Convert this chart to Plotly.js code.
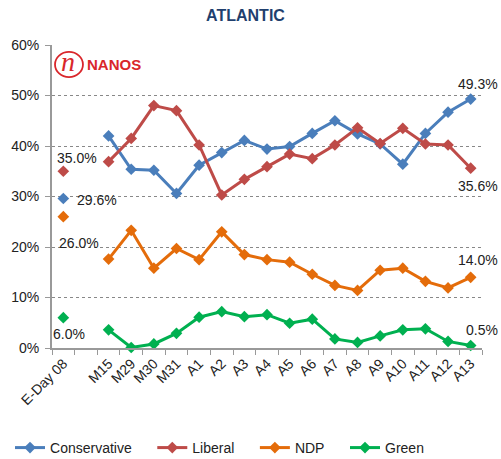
<!DOCTYPE html>
<html>
<head>
<meta charset="utf-8">
<script src="https://cdn.plot.ly/plotly-3.0.1.min.js"></script>
<style>html,body{margin:0;padding:0;background:#fff;}#chart{width:501px;height:459px;}</style>
</head>
<body>
<div id="chart"></div>
<script>
const categories = ['E-Day 08',' ','M15','M29','M30','M31','A1','A2','A3','A4','A5','A6','A7','A8','A9','A10','A11','A12','A13'];
const conservative = [29.6,null,42.0,35.4,35.2,30.6,36.2,38.7,41.1,39.4,39.9,42.5,45.0,42.4,40.4,36.4,42.5,46.7,49.3];
const liberal      = [35.0,null,36.9,41.5,48.0,47.0,40.2,30.3,33.4,35.9,38.4,37.5,40.2,43.6,40.5,43.5,40.4,40.2,35.6];
const ndp          = [26.0,null,17.6,23.3,15.8,19.7,17.5,23.0,18.5,17.5,17.0,14.6,12.4,11.4,15.4,15.8,13.2,11.9,14.0];
const green        = [6.0,null,3.6,0.1,0.8,2.9,6.1,7.2,6.2,6.6,4.9,5.7,1.8,1.1,2.4,3.6,3.8,1.3,0.5];
const seriesNames  = ['Conservative','Liberal','NDP','Green'];
const seriesColors = ['#4A7EBB','#BE4B48','#E46C0A','#00B050'];

const pad = '\u00a0\u00a0\u00a0\u00a0';
const allSeries = [conservative, liberal, ndp, green];
const traces = allSeries.map((vals, i) => ({
  type: 'scatter',
  mode: 'lines+markers',
  name: seriesNames[i] + pad,
  x: categories,
  y: vals,
  connectgaps: false,
  cliponaxis: false,
  line: {color: seriesColors[i], width: 3},
  marker: {symbol: 'diamond', size: 9, color: seriesColors[i]},
  hoverinfo: 'skip'
}));

const first = categories[0];
const last = categories[categories.length - 1];
const n = categories.length - 1;
const fmt = v => v.toFixed(1) + '%';
const labelFont = {family: 'Liberation Sans, Arial, sans-serif', size: 14, color: '#222'};
const ann = (x, y, xs, ys) => ({x: x, y: y, xref: 'x', yref: 'y', text: fmt(y), showarrow: false,
  xanchor: 'center', yanchor: 'middle', xshift: xs, yshift: ys, font: labelFont});

const annotations = [
  ann(first, liberal[0], 14, 13),
  ann(first, conservative[0], 34, -1),
  ann(first, ndp[0], 16, -26),
  ann(first, green[0], 6, -16),
  ann(last, conservative[n], 7, 15),
  ann(last, liberal[n], 7, -18),
  ann(last, ndp[n], 7, 17),
  ann(last, green[n], 11, 15),
  {xref: 'paper', yref: 'paper', x: 0.0395, y: 0.934, xanchor: 'center', yanchor: 'middle',
   text: 'n', showarrow: false, yshift: 3, xshift: -1,
   font: {family: 'Liberation Serif, Times New Roman, serif', size: 28, style: 'italic', color: '#D9262B'}},
  {xref: 'paper', yref: 'paper', x: 0.145, y: 0.934, xanchor: 'center', yanchor: 'middle',
   text: '<b>NANOS</b>', showarrow: false,
   font: {family: 'Liberation Sans, Arial, sans-serif', size: 15, color: '#D9262B'}}
];

const layout = {
  width: 501, height: 459,
  margin: {l: 52, r: 19, t: 45, b: 111},
  paper_bgcolor: '#fff', plot_bgcolor: '#fff',
  font: {family: 'Liberation Sans, Arial, sans-serif', size: 14, color: '#222'},
  title: {text: '<b>ATLANTIC</b>', font: {family: 'Liberation Sans, Arial, sans-serif', size: 16, color: '#1F3F6E'},
          x: 0.49, xref: 'container', xanchor: 'center', y: 0.967, yref: 'container', yanchor: 'middle', automargin: false},
  xaxis: {
    type: 'category', categoryorder: 'array', categoryarray: categories,
    range: [-0.5, categories.length - 0.5], automargin: false,
    tickangle: -45, tickson: 'boundaries', ticks: 'outside', ticklen: 5, tickcolor: '#999',
    showline: true, linecolor: '#999', linewidth: 2, showgrid: false, zeroline: false,
    tickfont: {size: 14, color: '#222'}, fixedrange: true
  },
  yaxis: {
    range: [0, 60], dtick: 10, ticksuffix: '%', ticks: 'outside', ticklen: 5, tickcolor: '#999',
    ticklabelstandoff: 3,
    showline: true, linecolor: '#999', linewidth: 2, zeroline: false, automargin: false,
    showgrid: true, gridcolor: '#888', griddash: 'dot', gridwidth: 1,
    tickfont: {size: 14, color: '#222'}, fixedrange: true
  },
  legend: {orientation: 'h', xref: 'container', yref: 'container', x: 0.02, y: 0.024,
           xanchor: 'left', yanchor: 'middle', font: {size: 14, color: '#222'}, itemwidth: 30},
  shapes: [{type: 'circle', xref: 'paper', yref: 'paper', x0: 0.007, x1: 0.072, y0: 0.894, y1: 0.977,
            line: {color: '#D9262B', width: 1.8}}],
  annotations: annotations,
  showlegend: true
};

Plotly.newPlot('chart', traces, layout, {displayModeBar: false, staticPlot: true});
</script>
</body>
</html>
